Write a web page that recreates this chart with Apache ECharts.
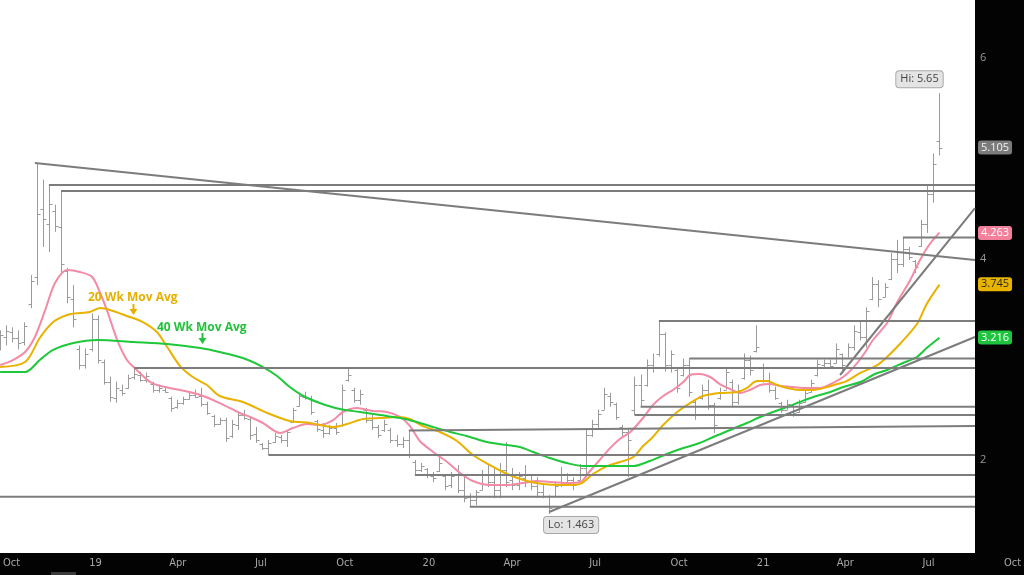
<!DOCTYPE html>
<html><head><meta charset="utf-8">
<style>html,body{margin:0;padding:0;background:#000;} #chart{width:1024px;height:575px;}</style>
<script src="https://cdn.jsdelivr.net/npm/echarts@6.0.0/dist/echarts.min.js"></script>
</head><body><div id="chart"></div>
<script>
// ---- weekly OHLC (bar index 0..154) ----
const opens = [3.14,3.22,3.27,3.21,3.17,3.55,3.82,4.50,4.35,4.48,4.32,3.88,3.60,3.10,2.95,3.10,3.40,2.98,2.78,2.62,
2.70,2.72,2.83,2.85,2.80,2.76,2.70,2.70,2.62,2.53,2.57,2.61,2.65,2.64,2.56,2.44,2.36,2.40,2.24,2.35,
2.45,2.41,2.26,2.16,2.12,2.18,2.23,2.20,2.38,2.54,2.63,2.62,2.39,2.30,2.27,2.32,2.35,2.80,2.70,2.60,
2.50,2.40,2.33,2.30,2.30,2.20,2.16,2.20,1.98,1.90,1.91,1.84,1.89,1.84,1.75,1.85,1.70,1.63,1.60,1.70,
1.86,1.78,1.70,1.90,1.80,1.75,1.82,1.78,1.74,1.68,1.64,1.64,1.75,1.85,1.80,1.80,1.92,2.25,2.36,2.50,
2.64,2.56,2.33,2.28,2.50,2.75,2.75,2.95,3.05,3.25,2.95,2.90,2.85,2.95,2.58,2.62,2.70,2.55,2.62,2.70,
2.78,2.58,2.82,3.00,3.08,2.92,2.80,2.70,2.57,2.50,2.55,2.48,2.58,2.68,2.85,2.95,2.97,2.97,3.05,3.02,
3.12,3.27,3.22,3.60,3.75,3.62,3.80,4.00,3.95,4.10,3.98,4.13,4.35,4.65,5.17];
const highs = [3.29,3.34,3.32,3.29,3.37,3.84,4.95,4.79,4.736,4.54,4.677,3.91,3.74,3.14,3.11,3.46,3.44,3.00,2.83,2.78,
2.75,2.85,2.915,2.88,2.87,2.78,2.75,2.72,2.63,2.60,2.63,2.67,2.70,2.72,2.58,2.45,2.42,2.42,2.40,2.48,
2.50,2.42,2.33,2.17,2.20,2.27,2.25,2.30,2.52,2.67,2.68,2.64,2.40,2.37,2.35,2.37,2.75,2.91,2.72,2.70,
2.52,2.45,2.35,2.40,2.32,2.25,2.23,2.294,2.00,1.97,1.92,1.88,2.03,1.85,1.88,1.95,1.85,1.67,1.70,1.90,
1.95,1.92,1.97,2.18,1.92,1.88,1.95,1.85,1.83,1.75,1.65,1.78,1.93,1.87,1.83,1.96,2.30,2.40,2.50,2.72,
2.67,2.57,2.35,2.32,2.83,2.85,3.00,3.06,3.383,3.27,3.09,2.92,3.01,3.01,2.60,2.75,2.80,2.57,2.72,2.92,
2.80,2.75,3.06,3.04,3.34,2.96,2.87,2.73,2.58,2.60,2.55,2.60,2.70,2.80,3.00,3.00,3.00,3.16,3.06,3.16,
3.34,3.39,3.52,3.82,3.79,3.76,4.06,4.19,4.214,4.12,3.99,4.39,4.736,5.05,5.65];
const lows = [3.09,3.14,3.17,3.10,3.14,3.51,3.74,4.12,4.07,4.27,3.86,3.56,3.32,2.90,2.91,3.08,2.96,2.75,2.58,2.57,
2.64,2.71,2.80,2.78,2.77,2.67,2.67,2.67,2.48,2.51,2.55,2.60,2.62,2.53,2.45,2.33,2.35,2.18,2.22,2.30,
2.40,2.20,2.17,2.10,2.05,2.17,2.17,2.13,2.37,2.53,2.60,2.45,2.28,2.22,2.25,2.25,2.33,2.78,2.57,2.55,
2.37,2.30,2.22,2.28,2.17,2.13,2.12,2.02,1.851,1.88,1.82,1.78,1.88,1.70,1.72,1.67,1.58,1.535,1.55,1.70,
1.73,1.62,1.62,1.73,1.70,1.70,1.73,1.70,1.63,1.62,1.463,1.63,1.73,1.77,1.70,1.80,1.83,2.23,2.32,2.50,
2.53,2.40,2.23,1.83,2.448,2.53,2.73,2.87,3.03,2.88,2.87,2.67,2.83,2.63,2.40,2.60,2.50,2.27,2.60,2.70,
2.53,2.55,2.80,2.84,3.07,2.77,2.67,2.60,2.47,2.50,2.43,2.47,2.57,2.67,2.83,2.92,2.91,2.96,2.88,3.02,
3.09,3.19,3.12,3.59,3.52,3.62,3.79,3.86,3.92,3.99,3.86,4.12,4.26,4.56,5.03];
const closes = [3.24,3.28,3.21,3.16,3.33,3.78,4.45,4.40,4.55,4.33,3.95,3.62,3.40,2.95,3.05,3.40,3.00,2.78,2.63,2.72,
2.67,2.82,2.86,2.80,2.84,2.70,2.72,2.68,2.52,2.57,2.61,2.65,2.63,2.56,2.47,2.36,2.40,2.22,2.36,2.45,
2.42,2.25,2.20,2.12,2.17,2.24,2.20,2.28,2.50,2.64,2.62,2.48,2.31,2.27,2.32,2.28,2.70,2.85,2.60,2.66,
2.40,2.33,2.25,2.36,2.20,2.16,2.20,2.05,1.90,1.94,1.85,1.82,1.97,1.74,1.84,1.70,1.62,1.60,1.68,1.86,
1.78,1.70,1.90,1.78,1.75,1.84,1.78,1.74,1.68,1.64,1.52,1.74,1.86,1.80,1.75,1.92,2.25,2.36,2.46,2.66,
2.58,2.43,2.28,2.20,2.75,2.60,2.95,2.92,3.25,2.95,3.05,2.72,2.95,2.68,2.45,2.70,2.55,2.35,2.68,2.88,
2.58,2.70,3.00,2.90,3.12,2.80,2.70,2.62,2.50,2.56,2.47,2.57,2.67,2.77,2.96,2.97,2.94,3.10,2.95,3.12,
3.28,3.22,3.48,3.75,3.60,3.72,4.00,3.95,4.10,4.02,3.92,4.35,4.65,4.95,5.105];

// ---- moving averages: [bar index, value] ----
const maShort = [[0,2.945],[2.1,2.995],[4.1,3.075],[5.7,3.224],[7.4,3.493],[9.0,3.761],[11.0,3.891],[13.1,3.871],[15.1,3.821],[16.4,3.662],[17.5,3.493],[19.2,3.194],[20.8,2.995],[22.4,2.896],[24.6,2.776],[27.0,2.726],[29.5,2.697],[32.8,2.647],[36.0,2.567],[39.3,2.468],[41.0,2.428],[43.1,2.368],[45.9,2.269],[48.0,2.318],[50.3,2.358],[52.4,2.348],[54.6,2.398],[56.2,2.478],[58.5,2.517],[61.1,2.488],[63.4,2.478],[65.6,2.428],[67.2,2.338],[68.8,2.189],[71.0,2.080],[73.3,1.980],[75.4,1.871],[77.5,1.791],[80.3,1.751],[83.1,1.751],[85.7,1.771],[88.0,1.791],[90.1,1.781],[92.9,1.771],[95.1,1.781],[96.7,1.891],[98.3,2.0],[100.0,2.119],[101.6,2.209],[103.3,2.279],[105.4,2.418],[107.0,2.547],[108.7,2.637],[110.3,2.697],[112.0,2.776],[113.1,2.846],[114.7,2.856],[116.4,2.826],[118.0,2.756],[119.7,2.706],[121.3,2.667],[122.9,2.697],[124.6,2.746],[126.2,2.756],[127.9,2.736],[130.0,2.726],[132.3,2.716],[134.4,2.716],[136.5,2.766],[138.2,2.826],[139.8,2.915],[141.5,3.045],[143.1,3.194],[145.4,3.363],[147.0,3.562],[149.2,3.791],[150.8,3.990],[152.4,4.149],[154.0,4.263]];
const ma20 = [[0,2.925],[4.1,2.975],[6.5,3.214],[8.7,3.373],[11.0,3.443],[13.1,3.463],[14.7,3.473],[16.4,3.512],[18.0,3.493],[20.8,3.433],[23.4,3.373],[25.7,3.274],[27.4,3.124],[29.5,2.935],[31.6,2.826],[33.9,2.746],[36.0,2.637],[39.8,2.577],[43.8,2.468],[47.5,2.388],[50.8,2.368],[54.6,2.328],[56.9,2.358],[59.5,2.408],[62.3,2.418],[65.1,2.428],[67.2,2.408],[69.3,2.338],[72.1,2.279],[74.9,2.189],[77.5,2.050],[80.3,1.950],[83.1,1.861],[86.4,1.791],[89.0,1.761],[91.8,1.751],[93.9,1.751],[95.4,1.771],[97.2,1.861],[99.5,1.940],[101.6,1.980],[103.8,2.030],[105.4,2.139],[107.0,2.229],[108.7,2.348],[111.0,2.478],[113.1,2.567],[115.2,2.637],[118.0,2.667],[120.8,2.677],[122.4,2.716],[124.1,2.786],[125.7,2.786],[127.4,2.746],[129.0,2.716],[131.1,2.697],[133.3,2.697],[135.6,2.726],[137.2,2.756],[138.8,2.786],[141.0,2.866],[143.8,2.945],[145.4,3.025],[147.5,3.154],[150.3,3.353],[151.9,3.552],[154.0,3.745]];
const ma40 = [[0,2.876],[4.1,2.876],[6.5,2.995],[8.7,3.095],[12.0,3.164],[16.0,3.194],[21.8,3.174],[27.4,3.154],[32.8,3.114],[36.0,3.075],[39.8,3.015],[43.1,2.925],[45.4,2.836],[47.5,2.726],[49.7,2.637],[52.4,2.567],[55.7,2.507],[59.0,2.478],[62.3,2.448],[65.6,2.418],[68.3,2.378],[71.0,2.328],[73.8,2.279],[76.5,2.239],[79.8,2.179],[83.1,2.149],[85.2,2.129],[87.4,2.080],[90.1,2.020],[92.9,1.970],[95.6,1.940],[98.3,1.940],[101.1,1.940],[103.8,1.940],[106.5,1.990],[109.3,2.060],[112.0,2.119],[114.7,2.169],[116.9,2.229],[119.7,2.299],[122.4,2.368],[124.6,2.428],[126.7,2.478],[129.0,2.527],[131.1,2.577],[133.3,2.627],[136.1,2.677],[138.2,2.726],[141.0,2.776],[143.4,2.856],[145.4,2.896],[148.0,2.965],[150.3,3.025],[151.9,3.114],[154.0,3.216]];

// ---- drawn trend lines: [[startIndex,startValue],[endIndex,endValue]] ----
const X_END = 159.82;
const trendLines = [
  [[5.7,4.955],[X_END,3.99]],
  [[8,4.736],[X_END,4.736]],
  [[10,4.677],[X_END,4.677]],
  [[148,4.214],[X_END,4.214]],
  [[108,3.383],[X_END,3.383]],
  [[113,3.01],[X_END,3.01]],
  [[22,2.915],[X_END,2.915]],
  [[105,2.53],[X_END,2.53]],
  [[104,2.448],[X_END,2.448]],
  [[67,2.294],[X_END,2.338]],
  [[44,2.05],[X_END,2.05]],
  [[68,1.851],[X_END,1.851]],
  [[-0.02,1.635],[X_END,1.635]],
  [[77,1.535],[X_END,1.535]],
  [[137.7,2.846],[X_END,4.507]],
  [[90,1.483],[X_END,3.224]]
];

// ---- right-hand price tags ----
const tagValues = [5.105, 4.263, 3.745, 3.216];
const tagLabels = ['5.105', '4.263', '3.745', '3.216'];
const hiPoint = [154, 5.65], hiText = 'Hi: 5.65';
const loPoint = [90, 1.463], loText = 'Lo: 1.463';

// ---- axis ticks ----
const yTickValues = [2, 4, 6];
const xTickDates = ['2018-10-01','2019-01-01','2019-04-01','2019-07-01','2019-10-01','2020-01-01','2020-04-01','2020-07-01','2020-10-01','2021-01-01','2021-04-01','2021-07-01','2021-10-01'];
const xTickLabels = ['Oct','19','Apr','Jul','Oct','20','Apr','Jul','Oct','21','Apr','Jul','Oct'];

// ---------------------------------------------------------------
const DAY = 86400000;
const t0 = Date.parse('2018-10-01T00:00:00Z');
const tickTs = xTickDates.map(d => Date.parse(d + 'T00:00:00Z'));
const tagBg = ['#7b7b7b', '#f2809b', '#e8b400', '#1fc43e'];
const tagFg = ['#f2f2f2', '#ffffff', '#2a2a2a', '#ffffff'];

const ohlcData = opens.map((o, i) => [i, o, closes[i], lows[i], highs[i]]);

const chart = echarts.init(document.getElementById('chart'), null, {renderer: 'canvas'});

const series = [];
series.push({
  type: 'custom', name: 'OHLC', xAxisIndex: 0, yAxisIndex: 0, z: 2,
  data: ohlcData, encode: {x: 0, y: [1, 2, 3, 4]},
  renderItem: function (params, api) {
    const x = api.value(0);
    const pH = api.coord([x, api.value(4)]);
    const pL = api.coord([x, api.value(3)]);
    const pO = api.coord([x, api.value(1)]);
    const pC = api.coord([x, api.value(2)]);
    const cx = Math.round(pH[0]) + 0.5;
    const oy = Math.round(pO[1]) + 0.5, cy = Math.round(pC[1]) + 0.5;
    const style = {stroke: '#9a9a9a', lineWidth: 1};
    return {type: 'group', children: [
      {type: 'line', shape: {x1: cx, y1: pH[1], x2: cx, y2: pL[1]}, style: style},
      {type: 'line', shape: {x1: cx - 3, y1: oy, x2: cx, y2: oy}, style: style},
      {type: 'line', shape: {x1: cx, y1: cy, x2: cx + 3, y2: cy}, style: style}
    ]};
  }
});

trendLines.forEach(function (seg) {
  series.push({
    type: 'line', xAxisIndex: 0, yAxisIndex: 0, data: seg, symbol: 'none', silent: true, z: 4,
    lineStyle: {color: '#7c7c7c', width: 2}
  });
});

series.push({
  type: 'line', name: 'MA short', data: maShort, symbol: 'none', smooth: 0.3, z: 3,
  lineStyle: {color: '#f38aa6', width: 2},
  markLine: {
    symbol: 'none', silent: true, animation: false,
    lineStyle: {color: 'rgba(0,0,0,0)', width: 1, type: 'solid'},
    data: tagValues.map(function (v, k) {
      return {yAxis: v, label: {show: true, position: 'end', distance: 3, formatter: tagLabels[k],
        backgroundColor: tagBg[k], color: tagFg[k], padding: [2, 3, 1, 3], borderRadius: 3,
        fontSize: 11, fontFamily: 'Open Sans, sans-serif', opacity: 1}};
    })
  },
  markPoint: {
    symbol: 'circle', symbolSize: 0, silent: true, animation: false,
    data: [
      {coord: hiPoint, label: {show: true, position: 'inside', offset: [-20, -14], formatter: hiText,
        backgroundColor: '#e4e4e4', borderColor: '#a8a8a8', borderWidth: 1, borderRadius: 3,
        padding: [3, 4, 2, 4], color: '#444', fontSize: 11, fontFamily: 'Open Sans, sans-serif'}},
      {coord: loPoint, label: {show: true, position: 'inside', offset: [22, 11], formatter: loText,
        backgroundColor: '#e4e4e4', borderColor: '#a8a8a8', borderWidth: 1, borderRadius: 3,
        padding: [3, 4, 2, 4], color: '#444', fontSize: 11, fontFamily: 'Open Sans, sans-serif'}}
    ]
  }
});
series.push({type: 'line', name: '20 Wk', data: ma20, symbol: 'none', smooth: 0.3, z: 3,
  lineStyle: {color: '#e9b200', width: 2}});
series.push({type: 'line', name: '40 Wk', data: ma40, symbol: 'none', smooth: 0.3, z: 3,
  lineStyle: {color: '#1fc83b', width: 2}});

const option = {
  animation: false,
  backgroundColor: '#030303',
  grid: [
    {left: 0, right: 49, top: 0, bottom: 22, show: true, backgroundColor: '#ffffff', borderWidth: 0},
    {left: 0, right: 0, top: 552, bottom: 22, show: false}
  ],
  xAxis: [
    {type: 'value', gridIndex: 0, min: -0.016, max: X_END, show: false},
    {type: 'value', gridIndex: 1, min: t0 - 8.71 * DAY, max: t0 + 1106.8 * DAY,
      axisLine: {show: false}, axisTick: {show: false}, splitLine: {show: false},
      axisLabel: {customValues: tickTs, color: '#a8a8a8', fontSize: 11, margin: 5,
        fontFamily: 'Liberation Sans Narrow, DejaVu Sans Condensed, sans-serif',
        formatter: function (v) { const k = tickTs.indexOf(v); return k >= 0 ? xTickLabels[k] : ''; }}}
  ],
  yAxis: [
    {type: 'value', gridIndex: 0, position: 'right', min: 1.075, max: 6.577,
      axisLine: {show: false}, axisTick: {show: false}, splitLine: {show: false},
      axisLabel: {customValues: yTickValues, color: '#9a9a9a', fontSize: 11, margin: 5,
        fontFamily: 'Open Sans, sans-serif'}},
    {type: 'value', gridIndex: 1, show: false}
  ],
  graphic: [
    {type: 'text', left: 88, top: 292, z: 10, style: {text: '20 Wk Mov Avg', fill: '#e6b000',
      font: 'bold 12px "Open Sans", sans-serif'}},
    {type: 'line', z: 10, shape: {x1: 133.5, y1: 304, x2: 133.5, y2: 311}, style: {stroke: '#e6b000', lineWidth: 2}},
    {type: 'polygon', z: 10, shape: {points: [[129.5, 309], [137.5, 309], [133.5, 315]]}, style: {fill: '#e6b000'}},
    {type: 'text', left: 157, top: 322, z: 10, style: {text: '40 Wk Mov Avg', fill: '#22c23c',
      font: 'bold 12px "Open Sans", sans-serif'}},
    {type: 'line', z: 10, shape: {x1: 202.5, y1: 333, x2: 202.5, y2: 340}, style: {stroke: '#22c23c', lineWidth: 2}},
    {type: 'polygon', z: 10, shape: {points: [[198.5, 338], [206.5, 338], [202.5, 344]]}, style: {fill: '#22c23c'}},
    {type: 'rect', z: 10, shape: {x: 51, y: 572, width: 25, height: 3}, style: {fill: '#3a3a3a'}}
  ],
  series: series
};
chart.setOption(option);
</script>
</body></html>
